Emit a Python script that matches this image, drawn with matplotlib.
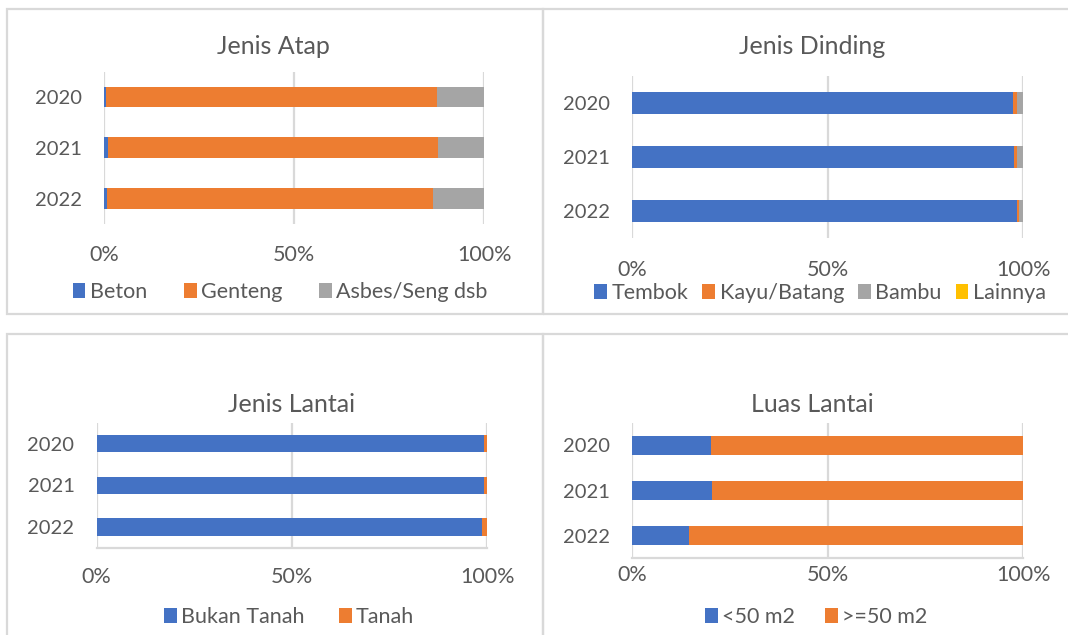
import matplotlib
matplotlib.use("Agg")
import matplotlib.pyplot as plt
from matplotlib.patches import Patch, Rectangle

plt.rcParams['font.family'] = ['Lato', 'DejaVu Sans']

years = ["2020", "2021", "2022"]

atap_labels = ["Beton", "Genteng", "Asbes/Seng dsb"]
atap_beton = [0.5, 1.0, 0.7]
atap_genteng = [87.1, 86.8, 85.9]
atap_asbes = [12.4, 12.2, 13.4]

dinding_labels = ["Tembok", "Kayu/Batang", "Bambu", "Lainnya"]
dinding_tembok = [97.4, 97.6, 98.5]
dinding_kayu = [1.0, 0.9, 0.5]
dinding_bambu = [1.6, 1.5, 0.8]
dinding_lainnya = [0.0, 0.0, 0.2]

lantai_labels = ["Bukan Tanah", "Tanah"]
lantai_bukan = [99.2, 99.2, 98.7]
lantai_tanah = [0.8, 0.8, 1.3]

luas_labels = ["<50 m2", ">=50 m2"]
luas_kecil = [20.2, 20.5, 14.5]
luas_besar = [79.8, 79.5, 85.5]

xticks = [0, 50, 100]
xtick_labels = ["0%", "50%", "100%"]

BLUE, ORANGE, GRAY, YELLOW = "#4472C4", "#ED7D31", "#A5A5A5", "#FFC000"
TEXT = "#595959"
GRID = "#D9D9D9"

W, H = 1068, 635
fig = plt.figure(figsize=(W / 100, H / 100), dpi=100)


def box(x0, y0, x1, y1):
    # pixel box (top-left origin) -> figure fraction rect
    return [x0 / W, 1 - y1 / H, (x1 - x0) / W, (y1 - y0) / H]


# panel frames
for x0, y0, x1, y1 in [(7, 8.5, 543, 314), (543, 8.5, 1075, 314),
                       (7, 334, 543, 645), (543, 334, 1075, 645)]:
    fig.add_artist(Rectangle((x0 / W, 1 - y1 / H), (x1 - x0) / W, (y1 - y0) / H,
                             transform=fig.transFigure, fill=False,
                             edgecolor=GRID, linewidth=1.6))


def stacked(rect, series, colors, title, title_xy, labels, leg_xy, xpad, bottom_line, colsp):
    ax = fig.add_axes(box(*rect))
    pos = range(len(years))
    left = [0] * len(years)
    for vals, c in zip(series, colors):
        ax.barh(pos, vals, left=left, height=0.41, color=c, zorder=3)
        left = [l + v for l, v in zip(left, vals)]
    ax.set_xlim(0, 100)
    ax.set_ylim(2.5, -0.5)
    ax.set_yticks(list(pos))
    ax.set_yticklabels(years)
    ax.set_xticks(xticks)
    ax.set_xticklabels(xtick_labels)
    ax.tick_params(axis='both', length=0, labelcolor=TEXT)
    ax.tick_params(axis='y', pad=16, labelsize=14.5)
    ax.tick_params(axis='x', pad=xpad, labelsize=15.5)
    ax.grid(axis='x', color=GRID, linewidth=1.6, zorder=0)
    for s in ["top", "right", "left"]:
        ax.spines[s].set_visible(False)
    if bottom_line:
        ax.spines["bottom"].set_color(GRID)
        ax.spines["bottom"].set_linewidth(1.6)
    else:
        ax.spines["bottom"].set_visible(False)
    fig.text(title_xy[0] / W, 1 - title_xy[1] / H, title, ha='center', va='center',
             fontsize=18, color=TEXT)
    handles = [Patch(facecolor=c, edgecolor='none') for c in colors]
    fig.legend(handles, labels, loc='center', bbox_to_anchor=(leg_xy[0] / W, 1 - leg_xy[1] / H),
               ncol=len(labels), frameon=False, fontsize=15.5, labelcolor=TEXT,
               handlelength=0.6, handleheight=0.7, handletextpad=0.2,
               columnspacing=colsp, borderpad=0)
    return ax


stacked((104, 71.5, 484.3, 224.3), [atap_beton, atap_genteng, atap_asbes],
        [BLUE, ORANGE, GRAY], "Jenis Atap", (273, 47), atap_labels, (280, 292), 15, False, 1.7)
stacked((632.3, 75.8, 1023.3, 237.8), [dinding_tembok, dinding_kayu, dinding_bambu, dinding_lainnya],
        [BLUE, ORANGE, GRAY, YELLOW], "Jenis Dinding", (812, 47), dinding_labels, (820, 293), 16, False, 0.65)
stacked((96.7, 422.9, 487.3, 547.8), [lantai_bukan, lantai_tanah],
        [BLUE, ORANGE], "Jenis Lantai", (292, 405), lantai_labels, (289, 617), 14, True, 1.6)
stacked((632.3, 422.7, 1023.3, 558.3), [luas_kecil, luas_besar],
        [BLUE, ORANGE], "Luas Lantai", (812, 405), luas_labels, (816, 617), 5, True, 1.4)

fig.savefig("out.png", dpi=100)
